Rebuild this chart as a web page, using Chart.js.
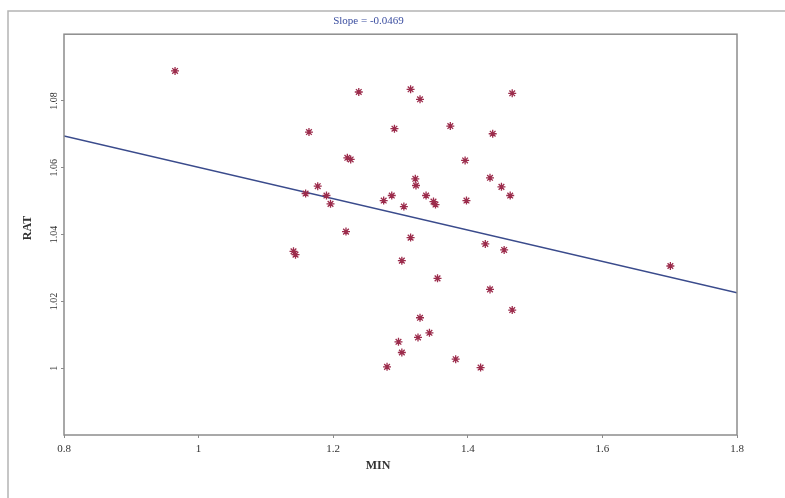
<!DOCTYPE html>
<html>
<head>
<meta charset="utf-8">
<script src="https://cdn.jsdelivr.net/npm/chart.js@4"></script>
<style>
  body { margin: 0; background: #fff; }
</style>
</head>
<body>
<canvas id="myChart" width="785" height="498"></canvas>
<script>
// scatter values (MIN, RAT)
const minValues = [
  0.965, 1.164, 1.221, 1.226, 1.177, 1.159, 1.190, 1.196, 1.219, 1.141,
  1.144, 1.238, 1.315, 1.329, 1.466, 1.291, 1.374, 1.437, 1.396, 1.322,
  1.323, 1.433, 1.450, 1.463, 1.275, 1.287, 1.305, 1.338, 1.349, 1.352,
  1.398, 1.315, 1.426, 1.454, 1.302, 1.701, 1.355, 1.433, 1.466, 1.329,
  1.343, 1.326, 1.297, 1.302, 1.382, 1.280, 1.419
];
const ratValues = [
  1.0890, 1.0707, 1.0630, 1.0625, 1.0545, 1.0523, 1.0517, 1.0492, 1.0409, 1.0350,
  1.0340, 1.0827, 1.0835, 1.0805, 1.0823, 1.0717, 1.0725, 1.0702, 1.0622, 1.0567,
  1.0547, 1.0570, 1.0543, 1.0517, 1.0502, 1.0517, 1.0484, 1.0517, 1.0499, 1.0490,
  1.0502, 1.0391, 1.0372, 1.0354, 1.0322, 1.0306, 1.0269, 1.0236, 1.0174, 1.0151,
  1.0106, 1.0092, 1.0079, 1.0047, 1.0027, 1.0004, 1.0002
];

// fitted line ends
const fitX = [0.8, 1.8];
const fitY = [1.0695, 1.0226];

const xTicks = [0.8, 1, 1.2, 1.4, 1.6, 1.8];
const yTicks = [1, 1.02, 1.04, 1.06, 1.08];

const serif = 'Liberation Serif';

// frame round the page, box round the plot, and the two axis names
const framePlugin = {
  id: 'frame',
  afterDraw(chart) {
    const ctx = chart.ctx;
    const a = chart.chartArea;
    ctx.save();
    ctx.strokeStyle = '#b4b4b4';
    ctx.lineWidth = 1.5;
    ctx.beginPath();
    ctx.moveTo(8, 498);
    ctx.lineTo(8, 11);
    ctx.lineTo(785, 11);
    ctx.stroke();

    ctx.strokeStyle = '#8c8c8c';
    ctx.lineWidth = 1.5;
    ctx.strokeRect(a.left, a.top, a.right - a.left, a.bottom - a.top);

    ctx.fillStyle = '#333';
    ctx.font = 'bold 12px ' + serif;
    ctx.textAlign = 'center';
    ctx.textBaseline = 'middle';
    ctx.fillText('MIN', 378, 466);
    ctx.translate(28, 228);
    ctx.rotate(-Math.PI / 2);
    ctx.fillText('RAT', 0, 0);
    ctx.restore();
  }
};

const data = {
  datasets: [{
    type: 'scatter',
    data: minValues.map((x, i) => ({x: x, y: ratValues[i]})),
    pointStyle: 'star',
    radius: 4,
    borderColor: '#9c2c4c',
    backgroundColor: '#9c2c4c',
    borderWidth: 1.3
  }, {
    type: 'line',
    data: fitX.map((x, i) => ({x: x, y: fitY[i]})),
    borderColor: '#3a4b8c',
    borderWidth: 1.5,
    pointRadius: 0,
    fill: false
  }]
};

const config = {
  data: data,
  options: {
    responsive: false,
    animation: false,
    layout: {
      padding: {left: 0, right: 48, top: 0, bottom: 0}
    },
    plugins: {
      legend: { display: false },
      tooltip: { enabled: false },
      title: {
        display: true,
        text: 'Slope = -0.0469',
        color: '#3b4ea0',
        font: { family: serif, size: 11, weight: 'normal' },
        padding: { top: 15, bottom: 6 }
      }
    },
    scales: {
      x: {
        type: 'linear',
        min: 0.8,
        max: 1.8,
        afterBuildTicks: s => { s.ticks = xTicks.map(v => ({value: v})); },
        afterFit: s => { s.height = 63; },
        grid: { display: true, drawOnChartArea: false, drawTicks: true, tickLength: 3, color: '#8c8c8c' },
        border: { display: false },
        ticks: {
          color: '#333',
          font: { family: serif, size: 11 },
          padding: 5,
          maxRotation: 0,
          callback: v => String(v)
        }
      },
      y: {
        type: 'linear',
        min: 0.98,
        max: 1.10,
        afterBuildTicks: s => { s.ticks = yTicks.map(v => ({value: v})); },
        afterFit: s => { s.width = 64; },
        grid: { display: true, drawOnChartArea: false, drawTicks: true, tickLength: 3, color: '#8c8c8c' },
        border: { display: false },
        ticks: {
          color: '#333',
          font: { family: serif, size: 10 },
          minRotation: 90,
          maxRotation: 90,
          crossAlign: 'center',
          padding: -2,
          callback: v => String(v)
        }
      }
    }
  },
  plugins: [framePlugin]
};

const myChart = new Chart(
  document.getElementById('myChart'),
  config
);
</script>
</body>
</html>
